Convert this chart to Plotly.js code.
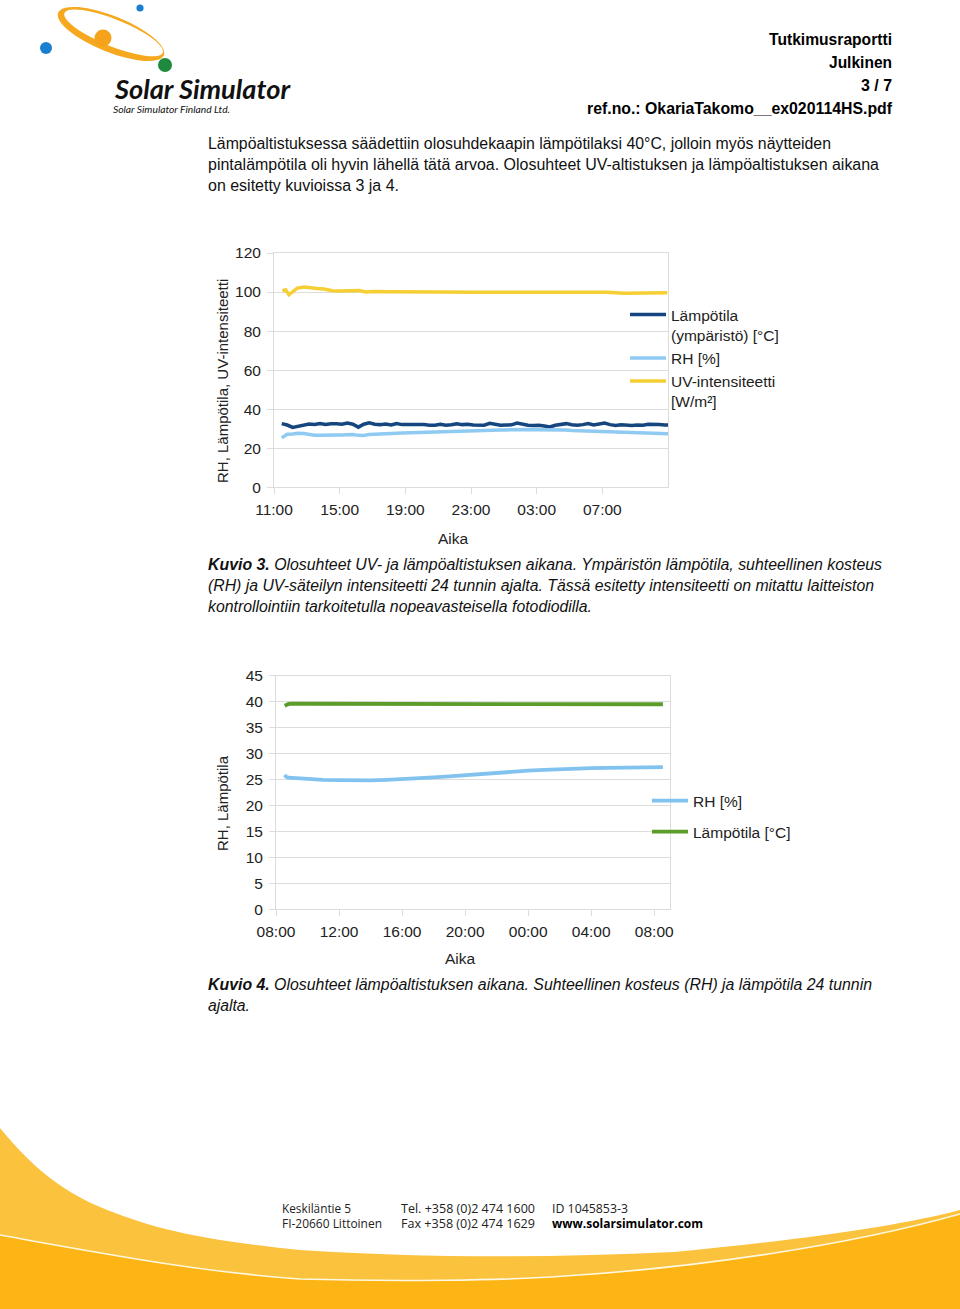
<!DOCTYPE html>
<html>
<head>
<meta charset="utf-8">
<script src="https://cdn.plot.ly/plotly-3.0.1.min.js"></script>
<style>
html,body{margin:0;padding:0;background:#fff;}
body{width:960px;height:1309px;position:relative;overflow:hidden;}
#deco{position:absolute;left:0;top:0;}
#plot{position:absolute;left:0;top:0;width:960px;height:1309px;}
.body{font-family:"Liberation Sans",Arial,sans-serif;font-size:16px;fill:#111;}
.hdr{font-family:"Liberation Sans",Arial,sans-serif;font-size:16px;font-weight:bold;fill:#000;}
.cap{font-family:"Liberation Sans",Arial,sans-serif;font-size:16px;font-style:italic;fill:#111;}
.foot{font-family:"Open Sans","Noto Sans",sans-serif;font-size:12px;fill:#222;}
</style>
</head>
<body>
<svg id="deco" width="960" height="1309" viewBox="0 0 960 1309" xmlns="http://www.w3.org/2000/svg">
  <!-- footer wave -->
  <path d="M0,1128 C30,1165 60,1190 100,1207 C150,1228 200,1240 300,1250 C420,1258 550,1258 674,1252 C800,1240 900,1226 960,1210 L960,1309 L0,1309 Z" fill="#fbc23d"/>
  <path d="M0,1235 C100,1253 200,1272 300,1279 C400,1282 500,1280 551,1277 C700,1268 850,1245 960,1214 L960,1309 L0,1309 Z" fill="#fdb515"/>
  <path d="M0,1235 C100,1253 200,1272 300,1279 C400,1282 500,1280 551,1277 C700,1268 850,1245 960,1214" fill="none" stroke="#fff8e0" stroke-width="1.6"/>
  <!-- logo -->
  <g transform="rotate(22 111 34)">
    <ellipse cx="111" cy="34" rx="57" ry="18" fill="#f6a81e"/>
    <ellipse cx="113" cy="32" rx="53" ry="13.5" fill="#fff"/>
  </g>
  <circle cx="140" cy="8" r="3.6" fill="#1b7fd1"/>
  <circle cx="46" cy="48" r="6" fill="#1b7fd1"/>
  <circle cx="103" cy="38" r="8.5" fill="#f6a21a"/>
  <circle cx="165" cy="65" r="7" fill="#1e8a3e"/>
  <text x="115" y="99" textLength="175" lengthAdjust="spacingAndGlyphs" style="font-family:Lato,'Open Sans',sans-serif;font-weight:bold;font-style:italic;font-size:26px;fill:#111;">Solar Simulator</text>
  <text x="113" y="113" textLength="117" lengthAdjust="spacingAndGlyphs" style="font-family:Lato,'Open Sans',sans-serif;font-style:italic;font-size:10px;fill:#111;">Solar Simulator Finland Ltd.</text>
  <!-- header -->
  <text class="hdr" x="892" y="45" text-anchor="end" textLength="123" lengthAdjust="spacingAndGlyphs">Tutkimusraportti</text>
  <text class="hdr" x="892" y="68" text-anchor="end" textLength="63" lengthAdjust="spacingAndGlyphs">Julkinen</text>
  <text class="hdr" x="892" y="91" text-anchor="end" textLength="31" lengthAdjust="spacingAndGlyphs">3 / 7</text>
  <text class="hdr" x="892" y="114" text-anchor="end" textLength="305" lengthAdjust="spacingAndGlyphs">ref.no.: OkariaTakomo__ex020114HS.pdf</text>
  <!-- body -->
  <text class="body" x="208" y="149" textLength="623" lengthAdjust="spacingAndGlyphs">Lämpöaltistuksessa säädettiin olosuhdekaapin lämpötilaksi 40°C, jolloin myös näytteiden</text>
  <text class="body" x="208" y="170" textLength="671" lengthAdjust="spacingAndGlyphs">pintalämpötila oli hyvin lähellä tätä arvoa. Olosuhteet UV-altistuksen ja lämpöaltistuksen aikana</text>
  <text class="body" x="208" y="191" textLength="191" lengthAdjust="spacingAndGlyphs">on esitetty kuvioissa 3 ja 4.</text>
  <!-- captions -->
  <text class="cap" x="208" y="570" textLength="674" lengthAdjust="spacingAndGlyphs"><tspan font-weight="bold">Kuvio 3.</tspan> Olosuhteet UV- ja lämpöaltistuksen aikana. Ympäristön lämpötila, suhteellinen kosteus</text>
  <text class="cap" x="208" y="591" textLength="666" lengthAdjust="spacingAndGlyphs">(RH) ja UV-säteilyn intensiteetti 24 tunnin ajalta. Tässä esitetty intensiteetti on mitattu laitteiston</text>
  <text class="cap" x="208" y="612" textLength="384" lengthAdjust="spacingAndGlyphs">kontrollointiin tarkoitetulla nopeavasteisella fotodiodilla.</text>
  <text class="cap" x="208" y="990" textLength="664" lengthAdjust="spacingAndGlyphs"><tspan font-weight="bold">Kuvio 4.</tspan> Olosuhteet lämpöaltistuksen aikana. Suhteellinen kosteus (RH) ja lämpötila 24 tunnin</text>
  <text class="cap" x="208" y="1011" textLength="42" lengthAdjust="spacingAndGlyphs">ajalta.</text>
  <!-- footer text -->
  <text class="foot" x="282" y="1213" textLength="69" lengthAdjust="spacingAndGlyphs">Keskiläntie 5</text>
  <text class="foot" x="282" y="1228" textLength="100" lengthAdjust="spacingAndGlyphs">FI-20660 Littoinen</text>
  <text class="foot" x="401" y="1213" textLength="134" lengthAdjust="spacingAndGlyphs">Tel. +358 (0)2 474 1600</text>
  <text class="foot" x="401" y="1228" textLength="134" lengthAdjust="spacingAndGlyphs">Fax +358 (0)2 474 1629</text>
  <text class="foot" x="552" y="1213" textLength="76" lengthAdjust="spacingAndGlyphs">ID 1045853-3</text>
  <text class="foot" x="552" y="1228" textLength="151" lengthAdjust="spacingAndGlyphs" style="font-weight:bold;fill:#000;">www.solarsimulator.com</text>
</svg>
<div id="plot"></div>
<script>
// ---------- DATA: Kuvio 3 (hours since 00:00 of day 1) ----------
const fig1TickHours = [11, 15, 19, 23, 27, 31];
const fig1TickLabels = ['11:00', '15:00', '19:00', '23:00', '03:00', '07:00'];
const fig1StartHour = 11.47;      // first sample
const fig1StepHours = 1 / 3;      // 20 min sampling
const tempAmbient = [32.6, 31.9, 30.7, 31.2, 32.0, 32.4, 32.2, 32.7, 32.2, 32.6, 32.5, 32.3, 32.9, 32.3, 30.8, 32.3, 33.0, 32.3, 32.1, 32.4, 31.9, 32.6, 32.1, 32.1, 32.3, 31.9, 32.1, 31.8, 31.8, 32.3, 31.8, 32.0, 32.5, 32.1, 32.3, 31.9,
                     31.9, 31.8, 32.8, 32.2, 31.8, 31.9, 32.0, 32.9, 32.3, 31.8, 31.7, 31.8, 31.4, 30.9, 31.8, 32.2, 32.6, 32.0, 31.8, 32.1, 32.6, 31.9, 32.5, 32.9, 32.1, 31.7, 32.0, 31.8, 31.7, 31.9, 31.8, 32.3, 32.0, 32.1, 31.9, 31.9];
const rhFig3 = [25.3, 27.2, 27.3, 27.7, 27.6, 27.0, 26.7, 26.7, 26.6, 26.7, 26.8, 26.8, 26.9, 27.0, 26.6, 26.5, 27.1, 27.3, 27.4, 27.5, 27.6, 27.7, 27.8, 27.9, 28.1, 28.3, 28.4, 28.5, 28.6, 28.7, 28.7, 28.8, 28.9, 28.9, 29.0, 29.0,
                29.1, 29.2, 29.3, 29.3, 29.4, 29.4, 29.5, 29.5, 29.6, 29.6, 29.6, 29.5, 29.5, 29.6, 29.5, 29.5, 29.3, 29.1, 29.0, 28.9, 28.8, 28.7, 28.6, 28.5, 28.4, 28.2, 28.1, 28.0, 27.9, 27.8, 27.6, 27.5, 27.4, 27.3, 27.3, 27.4];
const uvHours = [11.51, 11.71, 11.91, 12.18, 12.42, 12.83, 13.23, 13.64, 14.05, 14.35, 14.55, 15.06, 15.67, 16.18, 16.58, 17.09, 18.1, 19.12, 21.15, 23.18, 25.21, 27.24, 29.27, 31.3, 32.32, 33.33, 34.95];
const uvIntensity = [100.7, 101.2, 98.6, 100.5, 102.0, 102.6, 102.0, 101.8, 101.6, 101.2, 100.7, 100.6, 100.6, 100.8, 100.0, 100.3, 100.1, 100.2, 100.0, 99.9, 100.0, 100.0, 99.9, 99.9, 99.4, 99.4, 99.6];
const fig3Names = ['Lämpötila<br>(ympäristö) [°C]', 'RH [%]', 'UV-intensiteetti<br>[W/m²]'];

// ---------- DATA: Kuvio 4 ----------
const fig2TickHours = [8, 12, 16, 20, 24, 28, 32];
const fig2TickLabels = ['08:00', '12:00', '16:00', '20:00', '00:00', '04:00', '08:00'];
const fig4Hours = [8.55, 8.65, 8.8, 9.0, 9.5, 10, 11, 12, 13, 14, 15, 16, 17, 18, 19, 20, 21, 22, 23, 24, 25, 26, 27, 28, 29, 30, 31, 32, 32.55];
const rhFig4 = [25.9, 25.5, 25.35, 25.3, 25.15, 25.05, 24.95, 24.9, 24.85, 24.85, 24.95, 25.05, 25.2, 25.4, 25.6, 25.85, 26.1, 26.3, 26.5, 26.7, 26.85, 27.0, 27.1, 27.2, 27.25, 27.3, 27.35, 27.4, 27.4];
const tempFig4 = [39.2, 39.4, 39.55, 39.6, 39.6, 39.6, 39.6, 39.6, 39.6, 39.6, 39.65, 39.6, 39.6, 39.6, 39.6, 39.6, 39.6, 39.6, 39.6, 39.6, 39.6, 39.55, 39.55, 39.55, 39.5, 39.5, 39.5, 39.5, 39.5];
const fig4Names = ['RH [%]', 'Lämpötila [°C]'];

// ---------- LAYOUT ----------
const W = 960, H = 1309;
const px = x => x / W, py = y => 1 - y / H;
const FONT = 'Liberation Sans, Arial, sans-serif';
const GRID = '#dcdcdc';
const TXT = '#222';

function xAx(dom, anchor, range, vals, labels) {
  return {domain: dom, anchor: anchor, range: range, tickmode: 'array', tickvals: vals, ticktext: labels,
    showgrid: false, zeroline: false, showline: true, linecolor: GRID, linewidth: 1, mirror: true,
    ticks: 'outside', ticklen: 6, tickcolor: GRID, ticklabelstandoff: 2,
    tickfont: {family: FONT, size: 15.5, color: TXT}, fixedrange: true};
}
function yAx(dom, anchor, range, dtick) {
  return {domain: dom, anchor: anchor, range: range, dtick: dtick, tick0: 0,
    showgrid: true, gridcolor: GRID, gridwidth: 1, zeroline: false, showline: true, linecolor: GRID, mirror: true,
    ticks: 'outside', ticklen: 6, tickcolor: GRID, ticklabelstandoff: 3,
    tickfont: {family: FONT, size: 15.5, color: TXT}, fixedrange: true};
}

const traces = [
  {type: 'scatter', mode: 'lines', name: fig3Names[0], x0: fig1StartHour, dx: fig1StepHours, y: tempAmbient,
   line: {color: '#15467f', width: 3.5}, xaxis: 'x', yaxis: 'y', legend: 'legend'},
  {type: 'scatter', mode: 'lines', name: fig3Names[1], x0: fig1StartHour, dx: fig1StepHours, y: rhFig3,
   line: {color: '#8ecaf1', width: 3.5}, xaxis: 'x', yaxis: 'y', legend: 'legend'},
  {type: 'scatter', mode: 'lines', name: fig3Names[2], x: uvHours, y: uvIntensity,
   line: {color: '#f6cf35', width: 3.5}, xaxis: 'x', yaxis: 'y', legend: 'legend'},
  {type: 'scatter', mode: 'lines', name: fig4Names[0], x: fig4Hours, y: rhFig4,
   line: {color: '#82c2ef', width: 3.8}, xaxis: 'x2', yaxis: 'y2', legend: 'legend2', legendgroup: 'a'},
  {type: 'scatter', mode: 'lines', name: fig4Names[1], x: fig4Hours, y: tempFig4,
   line: {color: '#5b9c2a', width: 3.8}, xaxis: 'x2', yaxis: 'y2', legend: 'legend2', legendgroup: 'b'}
];

const layout = {
  width: W, height: H, margin: {l: 0, r: 0, t: 0, b: 0},
  paper_bgcolor: 'rgba(0,0,0,0)', plot_bgcolor: 'rgba(0,0,0,0)',
  font: {family: FONT, size: 15.5, color: TXT},
  showlegend: true,
  xaxis: xAx([px(274), px(668)], 'y', [11, 35], fig1TickHours, fig1TickLabels),
  yaxis: yAx([py(487.3), py(253)], 'x', [0, 120], 20),
  xaxis2: xAx([px(276), px(670)], 'y2', [8, 33], fig2TickHours, fig2TickLabels),
  yaxis2: yAx([py(909.3), py(675.7)], 'x2', [0, 45], 5),
  legend: {x: px(625), y: py(298), xanchor: 'left', yanchor: 'top', bgcolor: 'rgba(0,0,0,0)',
    borderwidth: 0, valign: 'top', itemwidth: 36, font: {family: FONT, size: 15.5, color: TXT}},
  legend2: {x: px(647), y: py(784), xanchor: 'left', yanchor: 'top', bgcolor: 'rgba(0,0,0,0)',
    borderwidth: 0, traceorder: 'grouped', tracegroupgap: 8, itemwidth: 36, font: {family: FONT, size: 15.5, color: TXT}},
  annotations: [
    {text: 'RH, Lämpötila, UV-intensiteetti', xref: 'paper', yref: 'paper', x: px(222), y: py(381), textangle: -90,
     showarrow: false, xanchor: 'center', yanchor: 'middle', font: {family: FONT, size: 15, color: TXT}},
    {text: 'Aika', xref: 'paper', yref: 'paper', x: px(453), y: py(538), showarrow: false,
     xanchor: 'center', yanchor: 'middle', font: {family: FONT, size: 15.5, color: TXT}},
    {text: 'RH, Lämpötila', xref: 'paper', yref: 'paper', x: px(222), y: py(803), textangle: -90,
     showarrow: false, xanchor: 'center', yanchor: 'middle', font: {family: FONT, size: 15, color: TXT}},
    {text: 'Aika', xref: 'paper', yref: 'paper', x: px(460), y: py(958), showarrow: false,
     xanchor: 'center', yanchor: 'middle', font: {family: FONT, size: 15.5, color: TXT}}
  ]
};

Plotly.newPlot('plot', traces, layout, {staticPlot: true, displayModeBar: false});
</script>
</body>
</html>
